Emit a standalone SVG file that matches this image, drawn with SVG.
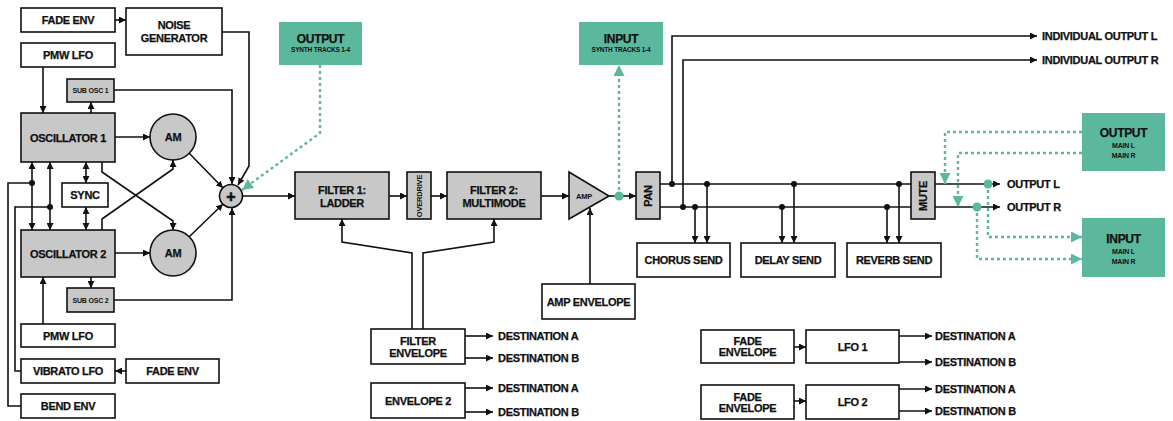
<svg xmlns="http://www.w3.org/2000/svg" width="1173" height="421" viewBox="0 0 1173 421">
<defs>
<marker id="ar" markerWidth="7" markerHeight="7" refX="7" refY="3.5" orient="auto-start-reverse" markerUnits="userSpaceOnUse"><path d="M0,0 L7,3.5 L0,7 z" fill="#111"/></marker>
<marker id="ta" markerWidth="11" markerHeight="11" refX="11" refY="5.5" orient="auto" markerUnits="userSpaceOnUse"><path d="M0,0 L11,5.5 L0,11 z" fill="#5cb89d"/></marker>
<style>
.b{fill:#fff;stroke:#111;stroke-width:1.6}
.g{fill:#c8c8c8;stroke:#111;stroke-width:1.6}
.tl{fill:#5cb89d}
.t{font-family:"Liberation Sans",Arial,sans-serif;font-weight:bold;font-size:11px;fill:#111;stroke:#111;stroke-width:0.25;letter-spacing:-0.3px}
.s{font-family:"Liberation Sans",Arial,sans-serif;font-weight:bold;font-size:7px;fill:#111;letter-spacing:-0.2px}
.m{text-anchor:middle}
.c path,.c polyline,.c line{fill:none;stroke:#111;stroke-width:1.6}
.c .a{marker-end:url(#ar)}
.c .d{marker-start:url(#ar);marker-end:url(#ar)}
.c .tt{stroke:#5cb89d;stroke-width:2.4;stroke-dasharray:3 3;marker-end:url(#ta)}
.dot{fill:#111}
.tdot{fill:#5cb89d}
</style>
</defs>
<rect width="1173" height="421" fill="#fff"/>

<g class="c" id="connectors">
<line class="a" x1="115" y1="20" x2="126" y2="20"/>
<polyline class="a" points="222,32 249,32 249,166 238,185"/>
<line class="a" x1="43" y1="67" x2="43" y2="113"/>
<line class="a" x1="91" y1="113" x2="91" y2="102"/>
<polyline class="a" points="114,90 232,90 232,184"/>
<line class="a" x1="115" y1="137" x2="150" y2="137"/>
<line class="a" x1="189" y1="153" x2="223" y2="188"/>
<line class="d" x1="32" y1="162" x2="32" y2="230"/>
<line class="d" x1="50" y1="162" x2="50" y2="230"/>
<polyline points="21,406 8,406 8,183 32,183"/>
<polyline points="21,371 15,371 15,207 50,207"/>
<line class="d" x1="86" y1="162" x2="86" y2="183"/>
<line class="d" x1="86" y1="207" x2="86" y2="230"/>
<polyline class="a" points="102,162 102,172 173,221 173,230"/>
<polyline class="a" points="102,230 102,219 173,169 173,160"/>
<line class="a" x1="115" y1="253" x2="150" y2="253"/>
<line class="a" x1="189" y1="237" x2="223" y2="204"/>
<line class="a" x1="91" y1="277" x2="91" y2="288"/>
<polyline class="a" points="114,300 232,300 232,208"/>
<line class="a" x1="43" y1="324" x2="43" y2="277"/>
<line class="a" x1="126" y1="371" x2="115" y2="371"/>
<line class="a" x1="243" y1="196" x2="295" y2="196"/>
<line class="a" x1="389" y1="196" x2="407" y2="196"/>
<line class="a" x1="431" y1="196" x2="447" y2="196"/>
<line class="a" x1="541" y1="196" x2="569" y2="196"/>
<line class="a" x1="609" y1="196" x2="636" y2="196"/>
<polyline class="a" points="412,329 412,253 342,242 342,219"/>
<polyline class="a" points="423,329 423,253 494,242 494,219"/>
<line class="a" x1="465" y1="336" x2="493" y2="336"/>
<line class="a" x1="465" y1="358" x2="493" y2="358"/>
<line class="a" x1="465" y1="388" x2="493" y2="388"/>
<line class="a" x1="465" y1="412" x2="493" y2="412"/>
<line class="a" x1="590" y1="284" x2="590" y2="208"/>
<line x1="660" y1="184" x2="911" y2="184"/>
<line x1="660" y1="207" x2="911" y2="207"/>
<polyline class="a" points="672,184 672,36 1037,36"/>
<polyline class="a" points="683,207 683,60 1037,60"/>
<line class="a" x1="695" y1="207" x2="695" y2="243"/>
<line class="a" x1="707" y1="184" x2="707" y2="243"/>
<line class="a" x1="782" y1="207" x2="782" y2="243"/>
<line class="a" x1="794" y1="184" x2="794" y2="243"/>
<line class="a" x1="887" y1="207" x2="887" y2="243"/>
<line class="a" x1="899" y1="184" x2="899" y2="243"/>
<line class="a" x1="935" y1="184" x2="1000" y2="184"/>
<line class="a" x1="935" y1="207" x2="1000" y2="207"/>
<line class="a" x1="794" y1="347" x2="806" y2="347"/>
<polyline class="a" points="899,336 932,336"/>
<polyline class="a" points="899,362 932,362"/>
<line class="a" x1="794" y1="401" x2="806" y2="401"/>
<polyline class="a" points="899,389 932,389"/>
<polyline class="a" points="899,411 932,411"/>
<polyline class="tt" points="320,65 320,133 242,190"/>
<line class="tt" x1="619" y1="196" x2="619" y2="65"/>
<polyline class="tt" points="1082,132 945,132 945,184"/>
<polyline class="tt" points="1082,153 958,153 958,207"/>
<polyline class="tt" points="988,184 988,237 1082,237"/>
<polyline class="tt" points="977,207 977,259 1082,259"/>
<circle class="dot" cx="32" cy="183" r="3"/>
<circle class="dot" cx="50" cy="207" r="3"/>
<circle class="dot" cx="672" cy="184" r="3"/>
<circle class="dot" cx="707" cy="184" r="3"/>
<circle class="dot" cx="794" cy="184" r="3"/>
<circle class="dot" cx="899" cy="184" r="3"/>
<circle class="dot" cx="683" cy="207" r="3"/>
<circle class="dot" cx="695" cy="207" r="3"/>
<circle class="dot" cx="782" cy="207" r="3"/>
<circle class="dot" cx="887" cy="207" r="3"/>
<circle class="tdot" cx="619" cy="196" r="4.5"/>
<circle class="tdot" cx="988" cy="184" r="4.5"/>
<circle class="tdot" cx="977" cy="207" r="4.5"/>
</g>

<g id="fade-env-1"><rect class="b" x="21" y="8" width="94" height="24"/><text class="t m" x="68" y="24">FADE ENV</text></g>
<g id="noise"><rect class="b" x="126" y="8" width="96" height="47"/><text class="t m" x="174" y="29">NOISE</text><text class="t m" x="174" y="42">GENERATOR</text></g>
<g id="pmw-lfo-1"><rect class="b" x="21" y="43" width="94" height="24"/><text class="t m" x="68" y="59">PMW LFO</text></g>
<g id="sub-osc-1"><rect class="g" x="67" y="79" width="47" height="23"/><text class="s m" x="90.5" y="93">SUB OSC 1</text></g>
<g id="osc-1"><rect class="g" x="21" y="113" width="94" height="49"/><text class="t m" x="68" y="141.5">OSCILLATOR 1</text></g>
<g id="am-1"><circle class="g" cx="173" cy="137" r="23"/><text class="t m" x="173" y="141">AM</text></g>
<g id="sync"><rect class="b" x="62" y="183" width="46" height="24"/><text class="t m" x="85" y="199">SYNC</text></g>
<g id="osc-2"><rect class="g" x="21" y="230" width="94" height="47"/><text class="t m" x="68" y="257.5">OSCILLATOR 2</text></g>
<g id="am-2"><circle class="g" cx="173" cy="253" r="23"/><text class="t m" x="173" y="257">AM</text></g>
<g id="sub-osc-2"><rect class="g" x="67" y="288" width="47" height="24"/><text class="s m" x="90.5" y="302.5">SUB OSC 2</text></g>
<g id="pmw-lfo-2"><rect class="b" x="21" y="324" width="94" height="23"/><text class="t m" x="68" y="339.5">PMW LFO</text></g>
<g id="vibrato-lfo"><rect class="b" x="21" y="359" width="94" height="24"/><text class="t m" x="68" y="375">VIBRATO LFO</text></g>
<g id="fade-env-2"><rect class="b" x="126" y="359" width="93" height="24"/><text class="t m" x="172.5" y="375">FADE ENV</text></g>
<g id="bend-env"><rect class="b" x="21" y="394" width="94" height="24"/><text class="t m" x="68" y="410">BEND ENV</text></g>
<g id="mixer"><circle class="g" cx="231" cy="196" r="11.5"/><text class="m" x="231" y="201.5" style="font-family:'Liberation Sans',Arial,sans-serif;font-weight:bold;font-size:16px;fill:#111;stroke:#111;stroke-width:0.6">+</text></g>
<g id="output-synth"><rect class="tl" x="279" y="22" width="83" height="43"/><text class="t m" x="320.5" y="43" style="font-size:12px">OUTPUT</text><text class="s m" x="320.5" y="51.5" style="font-size:6.5px">SYNTH TRACKS 1-4</text></g>
<g id="input-synth"><rect class="tl" x="579" y="22" width="84" height="43"/><text class="t m" x="621" y="43" style="font-size:12px">INPUT</text><text class="s m" x="621" y="51.5" style="font-size:6.5px">SYNTH TRACKS 1-4</text></g>
<g id="filter-1"><rect class="g" x="295" y="172" width="94" height="47"/><text class="t m" x="342" y="194">FILTER 1:</text><text class="t m" x="342" y="207">LADDER</text></g>
<g id="overdrive"><rect class="g" x="407" y="172" width="24" height="47"/><text class="s m" transform="translate(421.5,196) rotate(-90)" style="font-size:7.5px">OVERDRIVE</text></g>
<g id="filter-2"><rect class="g" x="447" y="172" width="94" height="47"/><text class="t m" x="494" y="194">FILTER 2:</text><text class="t m" x="494" y="207">MULTIMODE</text></g>
<g id="amp"><polygon class="g" points="569,172 609,196 569,219"/><text class="s m" x="584" y="198.5" style="font-size:7.5px">AMP</text></g>
<g id="pan"><rect class="g" x="636" y="172" width="24" height="47"/><text class="t m" transform="translate(652,196) rotate(-90)">PAN</text></g>
<g id="filter-envelope"><rect class="b" x="371" y="329" width="94" height="35"/><text class="t m" x="418" y="345">FILTER</text><text class="t m" x="418" y="357">ENVELOPE</text><text class="t" x="498" y="340">DESTINATION A</text><text class="t" x="498" y="362">DESTINATION B</text></g>
<g id="envelope-2"><rect class="b" x="371" y="383" width="94" height="35"/><text class="t m" x="418" y="404.5">ENVELOPE 2</text><text class="t" x="498" y="392">DESTINATION A</text><text class="t" x="498" y="416">DESTINATION B</text></g>
<g id="amp-envelope"><rect class="b" x="542" y="284" width="93" height="35"/><text class="t m" x="588.5" y="305.5">AMP ENVELOPE</text></g>
<g id="chorus-send"><rect class="b" x="637" y="243" width="93" height="34"/><text class="t m" x="683.5" y="264">CHORUS SEND</text></g>
<g id="delay-send"><rect class="b" x="741" y="243" width="94" height="34"/><text class="t m" x="788" y="264">DELAY SEND</text></g>
<g id="reverb-send"><rect class="b" x="847" y="243" width="94" height="34"/><text class="t m" x="894" y="264">REVERB SEND</text></g>
<g id="mute"><rect class="g" x="911" y="172" width="24" height="47"/><text class="t m" transform="translate(927,196) rotate(-90)">MUTE</text></g>
<g id="outputs"><text class="t" x="1007" y="188">OUTPUT L</text><text class="t" x="1007" y="211">OUTPUT R</text><text class="t" x="1042" y="40">INDIVIDUAL OUTPUT L</text><text class="t" x="1042" y="64">INDIVIDUAL OUTPUT R</text></g>
<g id="output-main"><rect class="tl" x="1082" y="113" width="83" height="58"/><text class="t m" x="1123.5" y="137" style="font-size:12px">OUTPUT</text><text class="s m" x="1123.5" y="147.5">MAIN L</text><text class="s m" x="1123.5" y="157.5">MAIN R</text></g>
<g id="input-main"><rect class="tl" x="1082" y="218" width="83" height="59"/><text class="t m" x="1123.5" y="243" style="font-size:12px">INPUT</text><text class="s m" x="1123.5" y="253.5">MAIN L</text><text class="s m" x="1123.5" y="263.5">MAIN R</text></g>
<g id="fade-envelope-lfo1"><rect class="b" x="701" y="330" width="93" height="33"/><text class="t m" x="747.5" y="345">FADE</text><text class="t m" x="747.5" y="356">ENVELOPE</text></g>
<g id="lfo-1"><rect class="b" x="806" y="330" width="93" height="33"/><text class="t m" x="852.5" y="350.5">LFO 1</text><text class="t" x="935" y="340">DESTINATION A</text><text class="t" x="935" y="366">DESTINATION B</text></g>
<g id="fade-envelope-lfo2"><rect class="b" x="701" y="385" width="93" height="34"/><text class="t m" x="747.5" y="400.5">FADE</text><text class="t m" x="747.5" y="411.5">ENVELOPE</text></g>
<g id="lfo-2"><rect class="b" x="806" y="385" width="93" height="34"/><text class="t m" x="852.5" y="406">LFO 2</text><text class="t" x="935" y="393">DESTINATION A</text><text class="t" x="935" y="415">DESTINATION B</text></g>
</svg>
